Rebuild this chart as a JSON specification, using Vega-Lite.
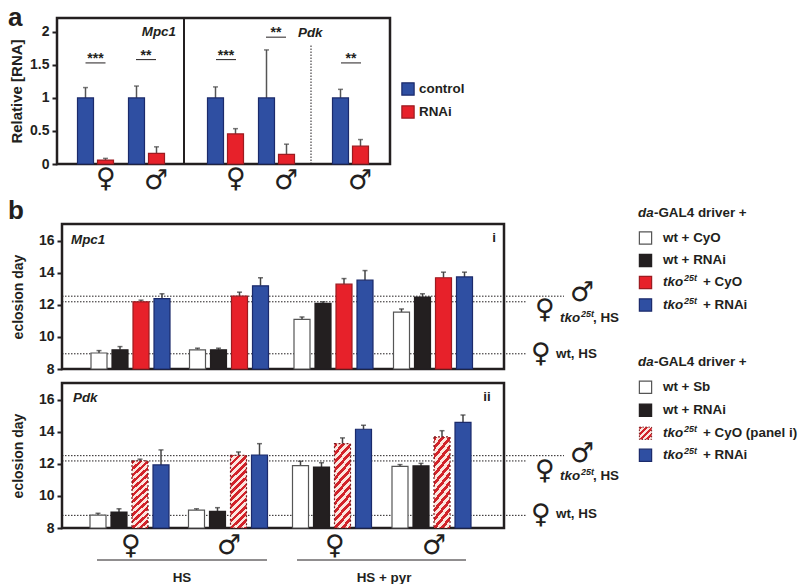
{"$schema":"https://vega.github.io/schema/vega-lite/v6.json","padding":{"left":6,"top":5,"right":0,"bottom":0},"background":"white","bounds":"flush","spacing":60,"config":{"font":"Liberation Sans","axis":{"labelFont":"Liberation Sans","titleFont":"Liberation Sans","labelFontSize":14,"labelFontWeight":"bold","labelColor":"#231f20","titleColor":"#231f20","titleFontWeight":"bold","titleFontSize":14,"grid":false,"domain":false,"tickColor":"#231f20","tickWidth":2,"tickSize":5,"labelPadding":3},"text":{"color":"#231f20","fontWeight":"bold","fontSize":13.4,"baseline":"middle","align":"left"}},"datasets":{"barsA":[{"g":0.8,"cond":"control","y":1,"upper":1.157},{"g":1.2,"cond":"RNAi","y":0.06,"upper":0.085},{"g":1.82,"cond":"control","y":1,"upper":1.18},{"g":2.22,"cond":"RNAi","y":0.16,"upper":0.26},{"g":3.4,"cond":"control","y":1,"upper":1.167},{"g":3.8,"cond":"RNAi","y":0.455,"upper":0.535},{"g":4.42,"cond":"control","y":1,"upper":1.727},{"g":4.82,"cond":"RNAi","y":0.146,"upper":0.3},{"g":5.9,"cond":"control","y":1,"upper":1.13},{"g":6.3,"cond":"RNAi","y":0.27,"upper":0.37}],"barsI":[{"g":0.685,"cond":"wt + CyO","y":9.0,"upper":9.15},{"g":0.895,"cond":"wt + RNAi","y":9.2,"upper":9.4},{"g":1.105,"cond":"tko25t + CyO","y":12.2,"upper":12.3},{"g":1.315,"cond":"tko25t + RNAi","y":12.4,"upper":12.7},{"g":1.67,"cond":"wt + CyO","y":9.2,"upper":9.3},{"g":1.88,"cond":"wt + RNAi","y":9.2,"upper":9.3},{"g":2.09,"cond":"tko25t + CyO","y":12.55,"upper":12.8},{"g":2.3,"cond":"tko25t + RNAi","y":13.2,"upper":13.7},{"g":2.715,"cond":"wt + CyO","y":11.1,"upper":11.25},{"g":2.925,"cond":"wt + RNAi","y":12.1,"upper":12.2},{"g":3.135,"cond":"tko25t + CyO","y":13.3,"upper":13.65},{"g":3.345,"cond":"tko25t + RNAi","y":13.55,"upper":14.15},{"g":3.71,"cond":"wt + CyO","y":11.55,"upper":11.75},{"g":3.92,"cond":"wt + RNAi","y":12.5,"upper":12.7},{"g":4.13,"cond":"tko25t + CyO","y":13.7,"upper":14.05},{"g":4.34,"cond":"tko25t + RNAi","y":13.75,"upper":14.05}],"barsII":[{"g":0.675,"cond":"wt + Sb","y":8.81,"upper":8.92},{"g":0.885,"cond":"wt + RNAi","y":9.0,"upper":9.2},{"g":1.095,"cond":"tko25t + CyO (panel i)","y":12.19,"upper":12.3},{"g":1.305,"cond":"tko25t + RNAi","y":11.94,"upper":12.88},{"g":1.66,"cond":"wt + Sb","y":9.12,"upper":9.2},{"g":1.87,"cond":"wt + RNAi","y":9.04,"upper":9.27},{"g":2.08,"cond":"tko25t + CyO (panel i)","y":12.54,"upper":12.75},{"g":2.29,"cond":"tko25t + RNAi","y":12.56,"upper":13.27},{"g":2.7,"cond":"wt + Sb","y":11.9,"upper":12.17},{"g":2.91,"cond":"wt + RNAi","y":11.81,"upper":12.08},{"g":3.12,"cond":"tko25t + CyO (panel i)","y":13.27,"upper":13.63},{"g":3.33,"cond":"tko25t + RNAi","y":14.17,"upper":14.42},{"g":3.695,"cond":"wt + Sb","y":11.85,"upper":11.96},{"g":3.905,"cond":"wt + RNAi","y":11.88,"upper":12.04},{"g":4.115,"cond":"tko25t + CyO (panel i)","y":13.69,"upper":14.08},{"g":4.325,"cond":"tko25t + RNAi","y":14.6,"upper":15.06}]},"vconcat":[{"width":328,"height":146,"view":{"stroke":null},"encoding":{"x":{"field":"g","type":"quantitative","scale":{"domain":[0.33,6.89],"nice":false,"zero":false,"padding":0},"axis":null},"y":{"field":"y","type":"quantitative","stack":null,"scale":{"domain":[0,2.21],"nice":false},"axis":{"title":"Relative [RNA]","values":[0,0.5,1,1.5,2],"labelExpr":"datum.value","offset":5,"titlePadding":5,"titleFontSize":15}}},"layer":[{"data":{"values":[{"g":0.23,"ge":6.89,"y":0,"y2":2.21}]},"mark":{"type":"rect","fill":"transparent","stroke":"#231f20","strokeWidth":2.5},"encoding":{"x2":{"field":"ge"},"y2":{"field":"y2"}}},{"data":{"values":[{"g":2.77,"y":0,"y2":2.21}]},"mark":{"type":"rule","color":"#231f20","strokeWidth":2},"encoding":{"y2":{"field":"y2"}}},{"data":{"values":[{"g":5.31,"y":0,"y2":1.8}]},"mark":{"type":"rule","color":"#231f20","strokeWidth":1,"strokeDash":[1.5,1.5]},"encoding":{"y2":{"field":"y2"}}},{"data":{"name":"barsA"},"mark":{"type":"rule","color":"#555555","strokeWidth":1.5},"encoding":{"y2":{"field":"upper"}}},{"data":{"name":"barsA"},"mark":{"type":"tick","orient":"horizontal","size":5,"thickness":1.5,"color":"#444444"},"encoding":{"y":{"field":"upper","type":"quantitative","scale":{"domain":[0,2.21],"nice":false}}}},{"data":{"name":"barsA"},"mark":{"type":"bar","orient":"vertical","width":16,"strokeWidth":1.2},"encoding":{"fill":{"field":"cond","type":"nominal","legend":null,"scale":{"domain":["control","RNAi","wt + CyO","wt + Sb","wt + RNAi","tko25t + CyO","tko25t + RNAi"],"range":["#2f4fa2","#e7212a","#ffffff","#ffffff","#231f20","#e7212a","#2f4fa2"]}},"stroke":{"field":"cond","type":"nominal","legend":null,"scale":{"domain":["control","RNAi","wt + CyO","wt + Sb","wt + RNAi","tko25t + CyO","tko25t + RNAi"],"range":["#1b2a6b","#9c1b20","#555555","#555555","#231f20","#9c1b20","#1b2a6b"]}}}},{"data":{"values":[{"g":7.25,"y":1.136,"cond":"control"},{"g":7.25,"y":0.788,"cond":"RNAi"}]},"mark":{"type":"point","shape":"square","filled":true,"size":150,"opacity":1,"strokeWidth":1.2},"encoding":{"fill":{"field":"cond","type":"nominal","legend":null},"stroke":{"field":"cond","type":"nominal","legend":null}}},{"data":{"values":[{"g":7.47,"y":1.136,"label":"control"},{"g":7.47,"y":0.788,"label":"RNAi"}]},"mark":{"type":"text"},"encoding":{"text":{"field":"label"}}},{"data":{"values":[{"g":-0.75,"y":2.21,"label":"a"}]},"mark":{"type":"text","fontSize":26},"encoding":{"text":{"field":"label"}}},{"data":{"values":[{"g":2.61,"y":2.0,"label":"Mpc1"}]},"mark":{"type":"text","fontStyle":"italic","align":"right"},"encoding":{"text":{"field":"label"}}},{"data":{"values":[{"g":5.05,"y":1.98,"label":"Pdk"}]},"mark":{"type":"text","fontStyle":"italic"},"encoding":{"text":{"field":"label"}}},{"data":{"values":[{"g":0.8,"ge":1.2,"y":1.53},{"g":1.81,"ge":2.21,"y":1.58},{"g":3.41,"ge":3.81,"y":1.58},{"g":4.41,"ge":4.81,"y":1.92},{"g":5.91,"ge":6.31,"y":1.53}]},"mark":{"type":"rule","color":"#231f20","strokeWidth":1},"encoding":{"x2":{"field":"ge"}}},{"data":{"values":[{"g":1,"y":1.53,"label":"***"},{"g":2.01,"y":1.58,"label":"**"},{"g":3.61,"y":1.58,"label":"***"},{"g":4.61,"y":1.92,"label":"**"},{"g":6.11,"y":1.53,"label":"**"}]},"mark":{"type":"text","align":"center","dy":-4,"fontSize":14},"encoding":{"text":{"field":"label"}}},{"data":{"values":[{"g":1.21,"y":-0.23,"label":"♀"},{"g":2.21,"y":-0.25,"label":"♂"},{"g":3.81,"y":-0.23,"label":"♀"},{"g":4.81,"y":-0.25,"label":"♂"},{"g":6.29,"y":-0.25,"label":"♂"}]},"mark":{"type":"text","font":"DejaVu Sans","align":"center","fontSize":27,"fontWeight":"bold"},"encoding":{"text":{"field":"label"}}}]},{"bounds":"flush","spacing":14,"vconcat":[{"width":442,"height":145,"view":{"stroke":"#231f20","strokeWidth":2.5},"encoding":{"x":{"field":"g","type":"quantitative","scale":{"domain":[0.315,4.735],"nice":false,"zero":false,"padding":0},"axis":null},"y":{"field":"y","type":"quantitative","stack":null,"scale":{"domain":[8,17.06],"nice":false,"zero":false},"axis":{"title":"eclosion day","values":[8,10,12,14,16],"labelExpr":"datum.value","titlePadding":13}}},"layer":[{"data":{"values":[{"g":0.315,"ge":5.335,"y":12.55},{"g":0.315,"ge":4.965,"y":12.2},{"g":0.315,"ge":4.965,"y":8.95}]},"mark":{"type":"rule","color":"#231f20","strokeWidth":1,"strokeDash":[1.5,1.5]},"encoding":{"x2":{"field":"ge"}}},{"data":{"name":"barsI"},"mark":{"type":"rule","color":"#444444","strokeWidth":1.5},"encoding":{"y2":{"field":"upper"}}},{"data":{"name":"barsI"},"mark":{"type":"tick","orient":"horizontal","size":5,"thickness":1.5,"color":"#333333"},"encoding":{"y":{"field":"upper","type":"quantitative","scale":{"domain":[8,17.06],"nice":false,"zero":false}}}},{"data":{"name":"barsI"},"mark":{"type":"bar","orient":"vertical","width":16,"strokeWidth":1.2},"encoding":{"fill":{"field":"cond","type":"nominal","legend":null},"stroke":{"field":"cond","type":"nominal","legend":null}}},{"data":{"values":[{"g":6.15,"y":16.19,"cond":"wt + CyO"},{"g":6.15,"y":14.78,"cond":"wt + RNAi"},{"g":6.15,"y":13.41,"cond":"tko25t + CyO"},{"g":6.15,"y":12.0,"cond":"tko25t + RNAi"}]},"mark":{"type":"point","shape":"square","filled":true,"size":150,"opacity":1,"strokeWidth":1.2},"encoding":{"fill":{"field":"cond","type":"nominal","legend":null},"stroke":{"field":"cond","type":"nominal","legend":null}}},{"data":{"values":[{"g":6.235,"y":17.75,"label":"-GAL4  driver +"},{"g":6.325,"y":16.19,"label":"wt + CyO"},{"g":6.325,"y":14.78,"label":"wt + RNAi"},{"g":6.725,"y":13.41,"label":"+ CyO"},{"g":6.725,"y":12.0,"label":"+ RNAi"},{"g":5.625,"y":11.19,"label":", HS"},{"g":5.255,"y":8.94,"label":"wt, HS"}]},"mark":{"type":"text"},"encoding":{"text":{"field":"label"}}},{"data":{"values":[{"g":6.075,"y":17.75,"label":"da"},{"g":6.325,"y":13.41,"label":"tko"},{"g":6.325,"y":12.0,"label":"tko"},{"g":5.295,"y":11.19,"label":"tko"},{"g":0.405,"y":16.06,"label":"Mpc1"}]},"mark":{"type":"text","fontStyle":"italic"},"encoding":{"text":{"field":"label"}}},{"data":{"values":[{"g":6.535,"y":13.41,"label":"25t"},{"g":6.535,"y":12.0,"label":"25t"},{"g":5.505,"y":11.19,"label":"25t"}]},"mark":{"type":"text","fontStyle":"italic","fontSize":9,"dy":-4},"encoding":{"text":{"field":"label"}}},{"data":{"values":[{"g":4.635,"y":16.19,"label":"i"}]},"mark":{"type":"text","align":"center"},"encoding":{"text":{"field":"label"}}},{"data":{"values":[{"g":-0.225,"y":17.875,"label":"b"}]},"mark":{"type":"text","fontSize":26},"encoding":{"text":{"field":"label"}}},{"data":{"values":[{"g":5.515,"y":12.75,"label":"♂"},{"g":5.145,"y":11.69,"label":"♀"},{"g":5.105,"y":8.94,"label":"♀"}]},"mark":{"type":"text","font":"DejaVu Sans","align":"center","fontSize":27,"fontWeight":"bold"},"encoding":{"text":{"field":"label"}}}]},{"width":442,"height":145,"view":{"stroke":"#231f20","strokeWidth":2.5},"encoding":{"x":{"field":"g","type":"quantitative","scale":{"domain":[0.315,4.735],"nice":false,"zero":false,"padding":0},"axis":null},"y":{"field":"y","type":"quantitative","stack":null,"scale":{"domain":[8,17.06],"nice":false,"zero":false},"axis":{"title":"eclosion day","values":[8,10,12,14,16],"labelExpr":"datum.value","titlePadding":13}}},"layer":[{"data":{"values":[{"g":0.315,"ge":5.335,"y":12.52},{"g":0.315,"ge":4.965,"y":12.19},{"g":0.315,"ge":4.965,"y":8.79}]},"mark":{"type":"rule","color":"#231f20","strokeWidth":1,"strokeDash":[1.5,1.5]},"encoding":{"x2":{"field":"ge"}}},{"data":{"name":"barsII"},"mark":{"type":"rule","color":"#444444","strokeWidth":1.5},"encoding":{"y2":{"field":"upper"}}},{"data":{"name":"barsII"},"mark":{"type":"tick","orient":"horizontal","size":5,"thickness":1.5,"color":"#333333"},"encoding":{"y":{"field":"upper","type":"quantitative","scale":{"domain":[8,17.06],"nice":false,"zero":false}}}},{"data":{"name":"barsII"},"transform":[{"filter":"datum.cond !== 'tko25t + CyO (panel i)'"}],"mark":{"type":"bar","orient":"vertical","width":16,"strokeWidth":1.2},"encoding":{"fill":{"field":"cond","type":"nominal","legend":null},"stroke":{"field":"cond","type":"nominal","legend":null}}},{"data":{"name":"barsII"},"transform":[{"filter":"datum.cond === 'tko25t + CyO (panel i)'"}],"mark":{"type":"bar","orient":"vertical","width":16,"strokeWidth":1.2,"stroke":"#7a1a1c","strokeDash":[2,2],"fill":{"gradient":"linear","x1":0,"y1":0,"x2":1,"y2":4.7,"stops":[{"offset":0,"color":"#d2232a"},{"offset":0.01,"color":"#d2232a"},{"offset":0.01,"color":"#fbe6df"},{"offset":0.02,"color":"#fbe6df"},{"offset":0.02,"color":"#d2232a"},{"offset":0.03,"color":"#d2232a"},{"offset":0.03,"color":"#fbe6df"},{"offset":0.04,"color":"#fbe6df"},{"offset":0.04,"color":"#d2232a"},{"offset":0.05,"color":"#d2232a"},{"offset":0.05,"color":"#fbe6df"},{"offset":0.06,"color":"#fbe6df"},{"offset":0.06,"color":"#d2232a"},{"offset":0.07,"color":"#d2232a"},{"offset":0.07,"color":"#fbe6df"},{"offset":0.08,"color":"#fbe6df"},{"offset":0.08,"color":"#d2232a"},{"offset":0.09,"color":"#d2232a"},{"offset":0.09,"color":"#fbe6df"},{"offset":0.1,"color":"#fbe6df"},{"offset":0.1,"color":"#d2232a"},{"offset":0.11,"color":"#d2232a"},{"offset":0.11,"color":"#fbe6df"},{"offset":0.12,"color":"#fbe6df"},{"offset":0.12,"color":"#d2232a"},{"offset":0.13,"color":"#d2232a"},{"offset":0.13,"color":"#fbe6df"},{"offset":0.14,"color":"#fbe6df"},{"offset":0.14,"color":"#d2232a"},{"offset":0.15,"color":"#d2232a"},{"offset":0.15,"color":"#fbe6df"},{"offset":0.16,"color":"#fbe6df"},{"offset":0.16,"color":"#d2232a"},{"offset":0.17,"color":"#d2232a"},{"offset":0.17,"color":"#fbe6df"},{"offset":0.18,"color":"#fbe6df"},{"offset":0.18,"color":"#d2232a"},{"offset":0.19,"color":"#d2232a"},{"offset":0.19,"color":"#fbe6df"},{"offset":0.2,"color":"#fbe6df"},{"offset":0.2,"color":"#d2232a"},{"offset":0.21,"color":"#d2232a"},{"offset":0.21,"color":"#fbe6df"},{"offset":0.22,"color":"#fbe6df"},{"offset":0.22,"color":"#d2232a"},{"offset":0.23,"color":"#d2232a"},{"offset":0.23,"color":"#fbe6df"},{"offset":0.24,"color":"#fbe6df"},{"offset":0.24,"color":"#d2232a"},{"offset":0.25,"color":"#d2232a"},{"offset":0.25,"color":"#fbe6df"},{"offset":0.26,"color":"#fbe6df"}]}},"encoding":{}},{"data":{"values":[{"g":6.15,"y":16.79,"cond":"wt + Sb"},{"g":6.15,"y":15.36,"cond":"wt + RNAi"},{"g":6.15,"y":12.54,"cond":"tko25t + RNAi"}]},"mark":{"type":"point","shape":"square","filled":true,"size":150,"opacity":1,"strokeWidth":1.2},"encoding":{"fill":{"field":"cond","type":"nominal","legend":null},"stroke":{"field":"cond","type":"nominal","legend":null}}},{"data":{"values":[{"g":6.15,"y":13.92}]},"mark":{"type":"point","shape":"square","filled":true,"size":150,"opacity":1,"strokeWidth":1,"stroke":"#7a1a1c","strokeDash":[1.5,1.5],"fill":{"gradient":"linear","x1":0,"y1":0,"x2":1,"y2":1,"stops":[{"offset":0,"color":"#d2232a"},{"offset":0.125,"color":"#d2232a"},{"offset":0.125,"color":"#fbe6df"},{"offset":0.25,"color":"#fbe6df"},{"offset":0.25,"color":"#d2232a"},{"offset":0.375,"color":"#d2232a"},{"offset":0.375,"color":"#fbe6df"},{"offset":0.5,"color":"#fbe6df"},{"offset":0.5,"color":"#d2232a"},{"offset":0.625,"color":"#d2232a"},{"offset":0.625,"color":"#fbe6df"},{"offset":0.75,"color":"#fbe6df"},{"offset":0.75,"color":"#d2232a"},{"offset":0.875,"color":"#d2232a"},{"offset":0.875,"color":"#fbe6df"},{"offset":1,"color":"#fbe6df"}]}},"encoding":{}},{"data":{"values":[{"g":6.235,"y":18.36,"label":"-GAL4  driver +"},{"g":6.325,"y":16.79,"label":"wt + Sb"},{"g":6.325,"y":15.36,"label":"wt + RNAi"},{"g":6.725,"y":13.92,"label":"+ CyO (panel i)"},{"g":6.725,"y":12.54,"label":"+ RNAi"},{"g":5.625,"y":11.23,"label":", HS"},{"g":5.255,"y":8.86,"label":"wt, HS"}]},"mark":{"type":"text"},"encoding":{"text":{"field":"label"}}},{"data":{"values":[{"g":1.515,"y":4.86,"label":"HS"},{"g":3.535,"y":4.86,"label":"HS + pyr"}]},"mark":{"type":"text","align":"center"},"encoding":{"text":{"field":"label"}}},{"data":{"values":[{"g":6.075,"y":18.36,"label":"da"},{"g":6.325,"y":13.92,"label":"tko"},{"g":6.325,"y":12.54,"label":"tko"},{"g":5.295,"y":11.23,"label":"tko"},{"g":0.425,"y":16.1,"label":"Pdk"}]},"mark":{"type":"text","fontStyle":"italic"},"encoding":{"text":{"field":"label"}}},{"data":{"values":[{"g":6.535,"y":13.92,"label":"25t"},{"g":6.535,"y":12.54,"label":"25t"},{"g":5.505,"y":11.23,"label":"25t"}]},"mark":{"type":"text","fontStyle":"italic","fontSize":9,"dy":-4},"encoding":{"text":{"field":"label"}}},{"data":{"values":[{"g":4.565,"y":16.19,"label":"ii"}]},"mark":{"type":"text","align":"center"},"encoding":{"text":{"field":"label"}}},{"data":{"values":[{"g":0.665,"ge":2.365,"y":6.0},{"g":2.665,"ge":4.355,"y":6.0}]},"mark":{"type":"rule","color":"#231f20","strokeWidth":1},"encoding":{"x2":{"field":"ge"}}},{"data":{"values":[{"g":5.515,"y":12.6,"label":"♂"},{"g":5.145,"y":11.54,"label":"♀"},{"g":5.105,"y":8.79,"label":"♀"},{"g":1.005,"y":6.86,"label":"♀"},{"g":1.985,"y":6.86,"label":"♂"},{"g":3.045,"y":6.86,"label":"♀"},{"g":4.035,"y":6.86,"label":"♂"}]},"mark":{"type":"text","font":"DejaVu Sans","align":"center","fontSize":27,"fontWeight":"bold"},"encoding":{"text":{"field":"label"}}}]}]}]}
